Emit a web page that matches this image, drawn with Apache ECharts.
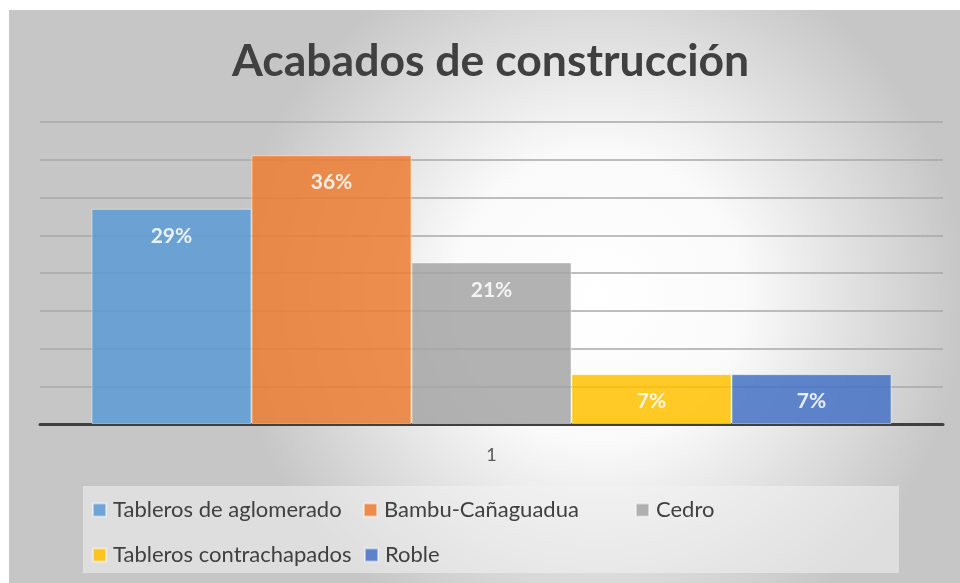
<!DOCTYPE html>
<html>
<head>
<meta charset="utf-8">
<script src="https://cdn.jsdelivr.net/npm/echarts@6/dist/echarts.min.js"></script>
<style>
html,body{margin:0;padding:0;background:#fff;}
#c{width:960px;height:583px;}
</style>
</head>
<body>
<div id="c"></div>
<script>
const titleText = 'Acabados de construcción';
const categories = ['1'];
const seriesNames = ['Tableros de aglomerado', 'Bambu-Cañaguadua', 'Cedro', 'Tableros contrachapados', 'Roble'];
const seriesValues = [28.5, 35.6, 21.4, 6.6, 6.6];
const seriesLabels = ['29%', '36%', '21%', '7%', '7%'];
const seriesColors = ['#5B9BD5', '#ED7D31', '#A5A5A5', '#FFC000', '#4472C4'];
const yMin = 0, yMax = 40, yStep = 5;

const FONT = 'Lato, "Open Sans", sans-serif';
const chart = echarts.init(document.getElementById('c'));

const legendPos = [[92, 499], [363, 499], [635, 499], [92, 544], [364, 544]];

const option = {
  backgroundColor: '#ffffff',
  animation: false,
  title: {
    text: titleText,
    left: 227,
    top: 34,
    textStyle: {fontFamily: FONT, fontWeight: 'bold', fontSize: 44.5, color: '#404040'}
  },
  graphic: [
    {type: 'rect', z: -10, silent: true,
     shape: {x: 9, y: 10, width: 951, height: 573},
     style: {fill: {type: 'radial', x: 0.62, y: 0.5, r: 0.64,
       colorStops: [{offset: 0, color: '#ffffff'}, {offset: 0.4, color: '#fafafa'}, {offset: 1, color: '#c6c6c6'}]}}},
    {type: 'rect', z: -9, silent: true,
     shape: {x: 83, y: 486, width: 816, height: 87},
     style: {fill: 'rgba(242,242,242,0.55)'}}
  ],
  legend: seriesNames.map((n, i) => ({
    data: [n],
    left: legendPos[i][0], top: legendPos[i][1],
    padding: 0,
    itemWidth: 13, itemHeight: 13, itemGap: 0,
    icon: 'rect',
    textStyle: {fontFamily: FONT, fontSize: 22, color: '#404040', padding: [0, 0, 0, 2]},
    selectedMode: false
  })),
  grid: {left: 40, right: 17, top: 122, bottom: 159, containLabel: false},
  xAxis: {
    type: 'category',
    data: categories,
    axisLine: {lineStyle: {color: '#404040', width: 3}},
    axisTick: {show: false},
    axisLabel: {fontFamily: FONT, fontSize: 18, color: '#595959', margin: 22}
  },
  yAxis: {
    type: 'value', min: yMin, max: yMax, interval: yStep,
    axisLabel: {show: false},
    axisLine: {show: false}, axisTick: {show: false},
    splitLine: {lineStyle: {color: '#a9a9a9', width: 1.5}}
  },
  series: seriesNames.map((n, i) => ({
    name: n,
    type: 'bar',
    data: [seriesValues[i]],
    barGap: '0%',
    barCategoryGap: '11.4%',
    itemStyle: {color: seriesColors[i], opacity: 0.85, borderColor: 'rgba(255,255,255,0.55)', borderWidth: 1},
    label: {
      show: true, position: 'insideTop', distance: 17,
      formatter: () => seriesLabels[i],
      fontFamily: FONT, fontWeight: 'bold', fontSize: 21, color: '#ffffff'
    }
  }))
};
chart.setOption(option);
</script>
</body>
</html>
